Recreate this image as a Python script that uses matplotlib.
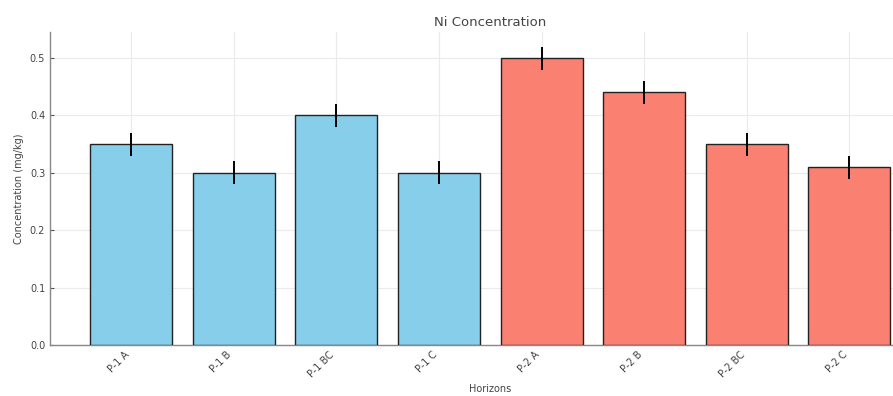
import matplotlib
matplotlib.use("Agg")
import matplotlib.pyplot as plt

# Ni concentration per horizon
horizons = ["P-1 A", "P-1 B", "P-1 BC", "P-1 C", "P-2 A", "P-2 B", "P-2 BC", "P-2 C"]
ni_conc = [0.35, 0.30, 0.40, 0.30, 0.50, 0.44, 0.35, 0.31]
ni_err = [0.02, 0.02, 0.02, 0.02, 0.02, 0.02, 0.02, 0.02]
bar_colors = ["skyblue"] * 4 + ["salmon"] * 4

txt = "#444444"
fig = plt.figure(figsize=(8.93, 3.96), dpi=100)
# axes run a bit past the right edge (reference is cropped)
ax = fig.add_axes([0.056, 0.129, 0.986, 0.791])

ax.bar(horizons, ni_conc, yerr=ni_err, color=bar_colors, edgecolor="#222222",
       linewidth=1.0, ecolor="black", error_kw={"elinewidth": 1.4}, zorder=3)

ax.set_title("Ni Concentration", fontsize=9.5, color=txt, pad=4)
ax.set_xlabel("Horizons", fontsize=7, color=txt, labelpad=3.5)
ax.set_ylabel("Concentration (mg/kg)", fontsize=7, color=txt, labelpad=4)

ax.grid(True, color="#ebebeb", linewidth=0.8, zorder=0)
for s in ["top", "right"]:
    ax.spines[s].set_visible(False)
for s in ["left", "bottom"]:
    ax.spines[s].set_color("#888888")
    ax.spines[s].set_linewidth(1.0)

ax.tick_params(direction="in", length=3, colors="#555555", labelsize=7)
plt.setp(ax.get_xticklabels(), rotation=45, ha="right", color=txt)
plt.setp(ax.get_yticklabels(), color=txt)

fig.savefig("out.png", dpi=100)
